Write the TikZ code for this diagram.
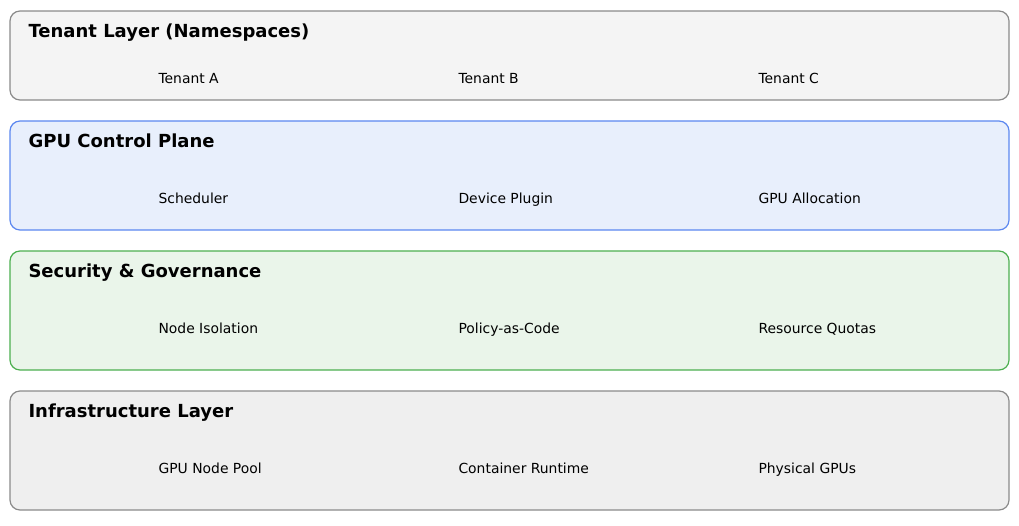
\documentclass[tikz,border=0pt]{standalone}
\usepackage{fontspec}
\setmainfont{DejaVu Sans}
\definecolor{g1f}{HTML}{F4F4F4}\definecolor{g1s}{HTML}{8A8A8A}
\definecolor{bf}{HTML}{E8EFFC}\definecolor{bs}{HTML}{5B87F0}
\definecolor{gf}{HTML}{EAF5EA}\definecolor{gs}{HTML}{4CAF50}
\definecolor{g4f}{HTML}{EFEFEF}
\begin{document}
\begin{tikzpicture}[x=1pt,y=-1pt,
  layer/.style={rounded corners=10pt,line width=1.2pt},
  title/.style={anchor=base west,font=\bfseries\fontsize{18}{20}\selectfont},
  item/.style={anchor=base west,font=\fontsize{13.9}{16}\selectfont}]
\useasboundingbox (0,0) rectangle (1019,525);
\draw[layer,fill=g1f,draw=g1s] (10,11) rectangle (1009,100);
\draw[layer,fill=bf,draw=bs] (10,121) rectangle (1009,230);
\draw[layer,fill=gf,draw=gs] (10,251) rectangle (1009,370);
\draw[layer,fill=g4f,draw=g1s] (10,391) rectangle (1009,510);
\node[title] (t1) at (25,37) {Tenant Layer (Namespaces)};
\node[title] (t2) at (25,147) {GPU Control Plane};
\node[title] (t3) at (25,277) {Security \& Governance};
\node[title] (t4) at (25,417) {Infrastructure Layer};
\node[item] (a1) at (155,83) {Tenant A};
\node[item] (a2) at (455,83) {Tenant B};
\node[item] (a3) at (755,83) {Tenant C};
\node[item] (b1) at (155,203) {Scheduler};
\node[item] (b2) at (455,203) {Device Plugin};
\node[item] (b3) at (755,203) {GPU Allocation};
\node[item] (c1) at (155,333) {Node Isolation};
\node[item] (c2) at (455,333) {Policy-as-Code};
\node[item] (c3) at (755,333) {Resource Quotas};
\node[item] (d1) at (155,473) {GPU Node Pool};
\node[item] (d2) at (455,473) {Container Runtime};
\node[item] (d3) at (755,473) {Physical GPUs};
\end{tikzpicture}
\end{document}
